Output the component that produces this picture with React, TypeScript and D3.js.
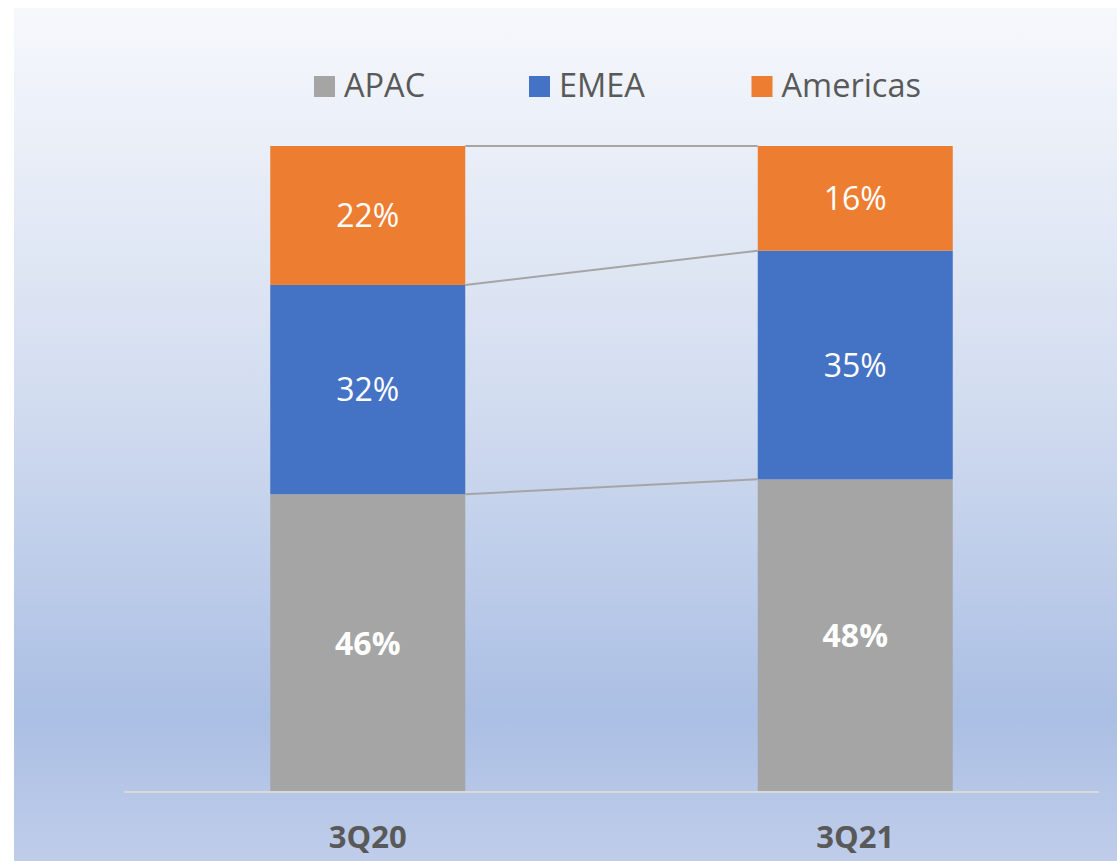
import React from 'react';
import * as d3 from 'd3';

// regional revenue split
const categories = ['3Q20', '3Q21'];
const regions = ['APAC', 'EMEA', 'Americas'];
const apac = [46.1, 48.4];
const emea = [32.4, 35.4];
const americas = [21.5, 16.2];

const colors: Record<string, string> = {
  APAC: '#a5a5a5',
  EMEA: '#4472c4',
  Americas: '#ed7d31',
};

const W = 1117,
  H = 861;
const font = "'Open Sans', sans-serif";

const App = () => {
  const rows = categories.map((c, i) => ({
    cat: c,
    APAC: apac[i],
    EMEA: emea[i],
    Americas: americas[i],
  }));

  const x = d3
    .scaleBand()
    .domain(categories)
    .range([124, 1099])
    .paddingInner(0.6)
    .paddingOuter(0.3);
  const y = d3.scaleLinear().domain([0, 100]).range([792, 146]);

  const stack = d3.stack<any>().keys(regions)(rows);

  // series lines join the top of each segment between the two bars
  const a = categories[0],
    b = categories[1];
  const x1 = (x(a) ?? 0) + x.bandwidth();
  const x2 = x(b) ?? 0;

  const legendX = [314, 529, 751.5];

  return (
    <svg
      width={W}
      height={H}
      style={{ position: 'absolute', left: 0, top: 0 }}
    >
      <defs>
        <linearGradient id="bg" x1="0" y1="0" x2="0" y2="1">
          <stop offset="0" stopColor="#f6f8fc" />
          <stop offset="0.45" stopColor="#d3ddf0" />
          <stop offset="0.83" stopColor="#abbfe4" />
          <stop offset="1" stopColor="#bfcdea" />
        </linearGradient>
      </defs>
      <rect x={0} y={0} width={W} height={H} fill="#ffffff" />
      <rect x={14} y={8} width={W - 14} height={H - 8} fill="url(#bg)" />

      {/* legend */}
      {regions.map((r, i) => (
        <g key={r}>
          <rect x={legendX[i]} y={76} width={21} height={21} fill={colors[r]} />
          <text
            x={legendX[i] + 30}
            y={97}
            fontFamily={font}
            fontSize={32.5}
            fill="#595959"
          >
            {r}
          </text>
        </g>
      ))}

      {/* bars */}
      {stack.map((s) =>
        s.map((d) => (
          <rect
            key={s.key + d.data.cat}
            x={x(d.data.cat)}
            y={y(d[1])}
            width={x.bandwidth()}
            height={y(d[0]) - y(d[1])}
            fill={colors[s.key]}
          />
        )),
      )}

      {/* series lines */}
      {stack.map((s) => (
        <line
          key={'l' + s.key}
          x1={x1}
          x2={x2}
          y1={y(s[0][1])}
          y2={y(s[1][1])}
          stroke="#a5a5a5"
          strokeWidth={2}
        />
      ))}

      {/* data labels */}
      {stack.map((s) =>
        s.map((d) => (
          <text
            key={'t' + s.key + d.data.cat}
            x={(x(d.data.cat) ?? 0) + x.bandwidth() / 2}
            y={(y(d[0]) + y(d[1])) / 2}
            dy="0.36em"
            textAnchor="middle"
            fontFamily={font}
            fontSize={32}
            fontWeight={s.key === 'APAC' ? 700 : 400}
            fill="#ffffff"
          >
            {Math.round(d[1] - d[0]) + '%'}
          </text>
        )),
      )}

      {/* axis */}
      <line x1={124} x2={1099} y1={792} y2={792} stroke="#d9d9d9" strokeWidth={2} />
      {categories.map((c) => (
        <text
          key={c}
          x={(x(c) ?? 0) + x.bandwidth() / 2}
          y={848}
          textAnchor="middle"
          fontFamily={font}
          fontSize={31}
          fontWeight={700}
          fill="#595959"
        >
          {c}
        </text>
      ))}
    </svg>
  );
};

export default App;
